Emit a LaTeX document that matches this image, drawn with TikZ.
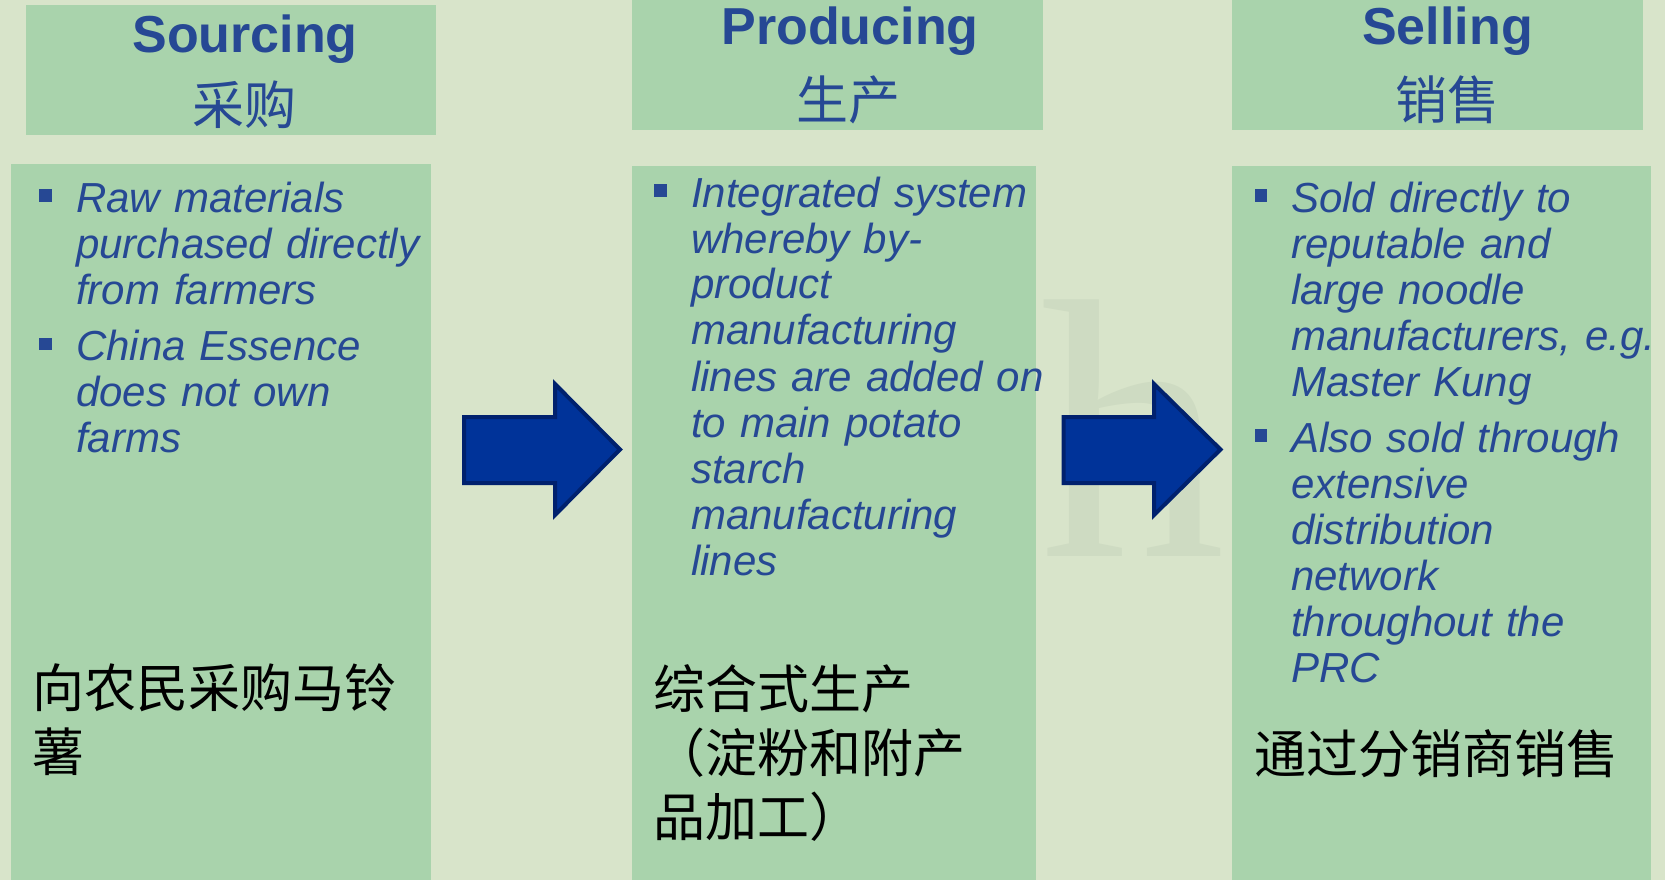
\documentclass[tikz,border=0pt]{standalone}
\usepackage{fontspec}
\setmainfont{Liberation Sans}
\newfontfamily\cjk{Noto Sans CJK SC}
\newfontfamily\wmark{Liberation Serif}
\usepackage{tikz}
\definecolor{bg}{HTML}{D8E4CA}
\definecolor{wm}{HTML}{CEDBC2}
\definecolor{boxgreen}{HTML}{A9D3AC}
\definecolor{textblue}{HTML}{264894}
\definecolor{arrowblue}{HTML}{003399}
\definecolor{arrowedge}{HTML}{00216E}

\begin{document}
\begin{tikzpicture}[x=1pt, y=-1pt,
  box/.style = {fill=boxgreen, inner sep=0, outer sep=0, anchor=north west},
  title/.style = {anchor=base, inner sep=0, text=textblue, font=\fontsize{52}{60}\selectfont\bfseries},
  titlecn/.style = {inner sep=0, text=textblue, font=\cjk\fontsize{52}{60}\selectfont},
  bul/.style = {fill=textblue, minimum size=12.5pt, inner sep=0},
  item/.style = {anchor=base west, align=left, text width=400pt, inner sep=0, text=textblue, font=\fontsize{42}{46}\selectfont\itshape},
  cnbody/.style = {anchor=base west, align=left, text width=400pt, inner sep=0, font=\cjk\fontsize{52}{64}\selectfont},
  flow/.style = {fill=arrowblue, draw=arrowedge, line width=4pt, line join=miter}]
\useasboundingbox (0,0) rectangle (1665,880);
\fill[bg] (0,0) rectangle (1665,880);
\node[anchor=base west, inner sep=0, text=wm, font=\wmark\fontsize{370}{370}\selectfont] (w) at (1040,556) {h};

% headers
\node[box, minimum width=410.9pt, minimum height=129.6pt] (h1) at (25.5,5.3) {};
\node[box, minimum width=411pt, minimum height=129.6pt] (h2) at (631.8,0) {};
\node[box, minimum width=410.9pt, minimum height=129.6pt] (h3) at (1231.8,0) {};
\node[title] (s1) at (245,53) {Sourcing};
\node[titlecn] (c1) at (244,105) {采购};
\node[title] (s2) at (850,45) {Producing};
\node[titlecn] (c2) at (848,100) {生产};
\node[title] (s3) at (1447.5,45) {Selling};
\node[titlecn] (c3) at (1447,100) {销售};

% bodies
\node[box, minimum width=420.5pt, minimum height=716.5pt] (1) at (10.6,163.5) {};
\node[box, minimum width=404.6pt, minimum height=714.3pt] (2) at (631.8,165.7) {};
\node[box, minimum width=419.5pt, minimum height=714.3pt] (3) at (1231.8,165.7) {};

\node[bul] (b1) at (45.5,195.5) {};
\node[bul] (b2) at (45.5,344) {};
\node[item] (t1) at (76,212) {Raw materials\\purchased directly\\from farmers\\[10pt]China Essence\\does not own\\farms};
\node[bul] (b3) at (660.5,190.5) {};
\node[item] (t2) at (691,207) {Integrated system\\whereby by-\\product\\manufacturing\\lines are added on\\to main potato\\starch\\manufacturing\\lines};
\node[bul] (b4) at (1261,195.5) {};
\node[bul] (b5) at (1261,435.5) {};
\node[item] (t3) at (1291,212) {Sold directly to\\reputable and\\large noodle\\manufacturers, e.g.\\Master Kung\\[10pt]Also sold through\\extensive\\distribution\\network\\throughout the\\PRC};

\node[cnbody] (n1) at (32,707) {向农民采购马铃\\薯};
\node[cnbody] (n2) at (653,708) {综合式生产\\（淀粉和附产\\品加工）};
\node[cnbody] (n3) at (1254,773) {通过分销商销售};

% arrows between the stages
\draw[flow] (464,417) -- (555,417) -- (555,384) -- (620,449.5) -- (555,515) -- (555,483) -- (464,483) -- cycle;
\draw[flow] (1063.5,417) -- (1154,417) -- (1154,384) -- (1220.5,449.5) -- (1154,515) -- (1154,483) -- (1063.5,483) -- cycle;
\end{tikzpicture}
\end{document}
